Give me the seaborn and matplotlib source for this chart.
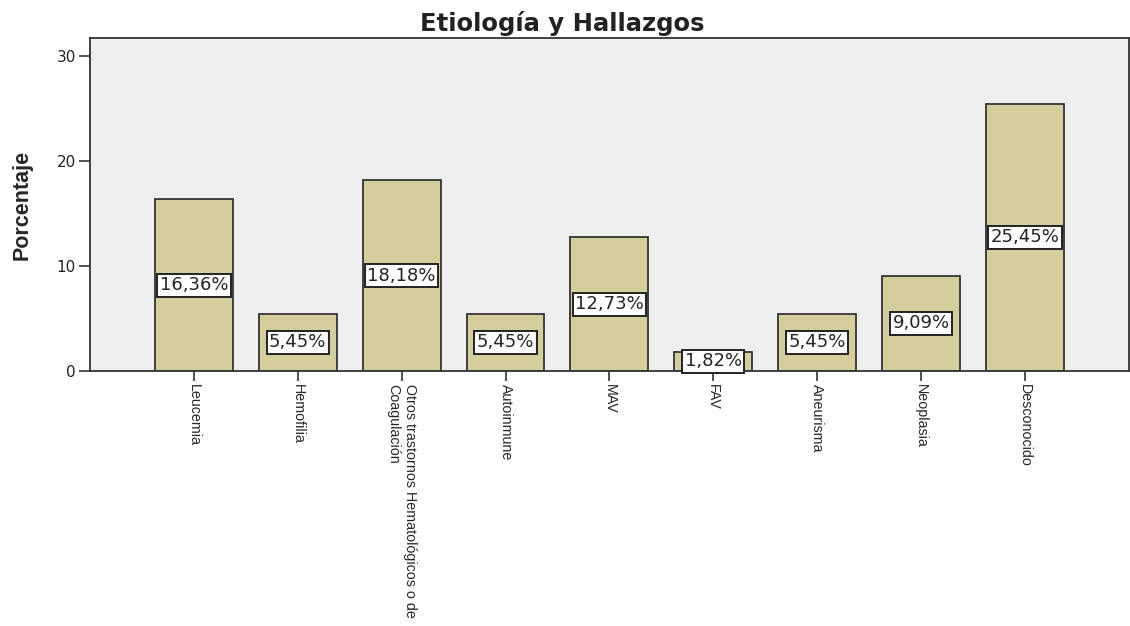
import pandas as pd
import seaborn as sns
import matplotlib.pyplot as plt

# Data
categories = ["Leucemia", "Hemofilia",
              "Otros trastornos Hematológicos o de\nCoagulación",
              "Autoinmune", "MAV", "FAV", "Aneurisma", "Neoplasia", "Desconocido"]
percentages = [16.36, 5.45, 18.18, 5.45, 12.73, 1.82, 5.45, 9.09, 25.45]
y_ticks = [0, 10, 20, 30]

df = pd.DataFrame({"categoria": categories, "porcentaje": percentages})

sns.set_theme(style="white")
plt.rcParams["font.family"] = ["DejaVu Sans"]

fig = plt.figure(figsize=(11.3, 6.26), dpi=100)
ax = fig.add_axes([0.0796, 0.4073, 0.9194, 0.5317])
ax.set_facecolor("#efefef")

sns.barplot(data=df, x="categoria", y="porcentaje", color="#d4ce9c",
            edgecolor="#333333", linewidth=1.3, width=0.75, saturation=1, ax=ax)

# value labels in white boxes, centred on the bars
for i, v in enumerate(percentages):
    ax.text(i, v / 2, f"{v:.2f}%".replace(".", ","), ha="center", va="center",
            fontsize=13, color="#222222",
            bbox=dict(boxstyle="square,pad=0.14", fc="white", ec="#222222", lw=1.4))

ax.set_xlim(-1, len(categories) - 1 + 1)
ax.set_ylim(0, 31.7)
ax.set_yticks(y_ticks)
ax.tick_params(axis="both", direction="out", length=8, width=1.2, color="#333333",
               left=True, bottom=True)
ax.tick_params(axis="y", labelsize=11, labelcolor="#222222", pad=2)
ax.set_xticks(range(len(categories)))
ax.set_xticklabels(categories, rotation=270, ha="center", va="top",
                   multialignment="left", fontsize=10.3,
                   family=["Liberation Sans Narrow", "Liberation Sans"])
ax.tick_params(axis="x", length=7, pad=2)

for s in ax.spines.values():
    s.set_color("#333333")
    s.set_linewidth(1.3)

ax.set_xlabel("")
ax.set_ylabel("Porcentaje", fontsize=15.5, fontweight="bold",
              family=["Liberation Sans Narrow", "Liberation Sans"], labelpad=17)
# title is centred on the whole figure, not on the axes
fig.text(0.4975, 0.982, "Etiología y Hallazgos", ha="center", va="top",
         fontsize=17.5, fontweight="bold", color="#222222")

fig.savefig("out.png", dpi=100)
plt.close(fig)
